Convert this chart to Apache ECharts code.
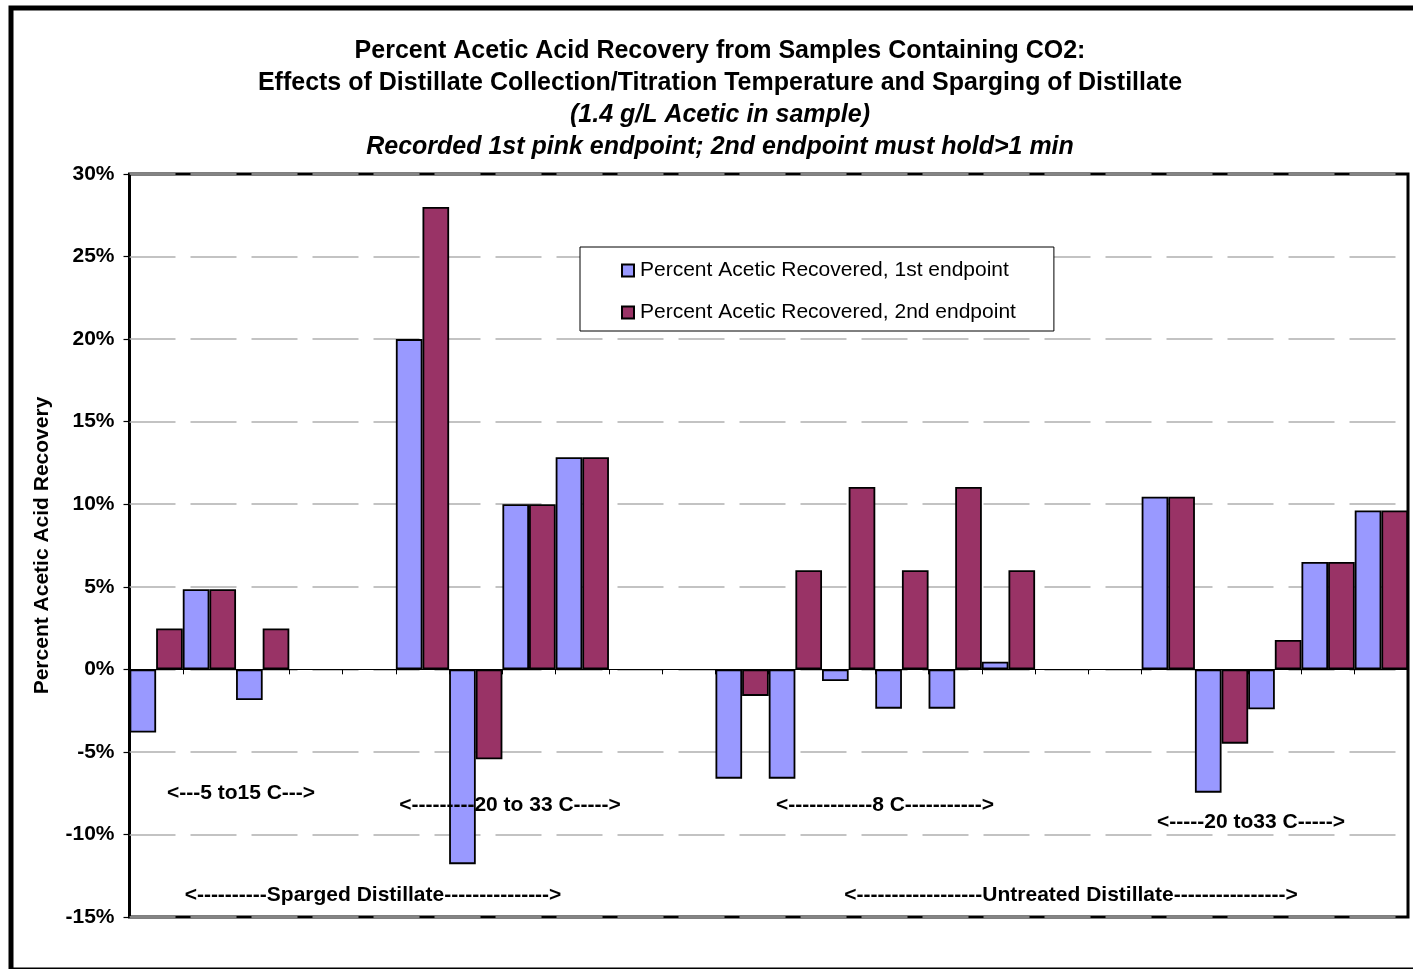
<!DOCTYPE html>
<html>
<head>
<meta charset="utf-8">
<script src="https://cdn.jsdelivr.net/npm/echarts@6/dist/echarts.min.js"></script>
<style>
  html, body { margin: 0; padding: 0; background: #fff; }
  #chart { width: 1413px; height: 969px; }
</style>
</head>
<body>
<div id="chart"></div>
<script>
// Sample slots along the category axis (empty slots separate the groups)
const categories = ['1','2','3','4','5','6','7','8','9','10','11','12',
                    '13','14','15','16','17','18','19','20','21','22','23','24'];

// Percent acetic acid recovered (%), first pink endpoint
const firstEndpoint = [-3.83, 4.85, -1.86, null, null, 20.0, -11.8, 10.0, 12.85, null, null, -6.62,
                       -6.62, -0.71, -2.38, -2.38, 0.46, null, null, 10.45, -7.47, -2.42, 6.5, 9.62];

// Percent acetic acid recovered (%), endpoint held > 1 min
const secondEndpoint = [2.48, 4.85, 2.48, null, null, 28.0, -5.45, 10.0, 12.85, null, null, -1.61,
                        6.0, 11.04, 6.0, 11.04, 6.0, null, null, 10.45, -4.5, 1.78, 6.5, 9.62];

const seriesNames = ['Percent Acetic Recovered, 1st endpoint', 'Percent Acetic Recovered, 2nd endpoint'];

const titleLines = [
  'Percent Acetic Acid Recovery from Samples Containing CO2:',
  'Effects of Distillate Collection/Titration Temperature and Sparging of Distillate',
  '(1.4 g/L Acetic in sample)',
  'Recorded 1st pink endpoint; 2nd endpoint must hold>1 min'
];

const groupNotes = [
  '<---5 to15 C--->',
  '<---------20 to 33 C----->',
  '<------------8 C----------->',
  '<-----20 to33 C----->',
  '<----------Sparged Distillate--------------->',
  '<------------------Untreated Distillate---------------->'
];

const FONT = '"Liberation Sans", Arial, Helvetica, sans-serif';

const chart = echarts.init(document.getElementById('chart'), null, { renderer: 'canvas' });

const titleGraphics = titleLines.map((line, i) => ({
  type: 'text',
  x: 720,
  y: 51 + i * 32,
  style: {
    text: line,
    fill: '#000',
    font: (i >= 2 ? 'italic ' : '') + 'bold 25px ' + FONT,
    textAlign: 'center',
    textVerticalAlign: 'middle'
  }
}));

const notePlaces = [[241, 793], [510, 805], [885, 805], [1251, 822], [373, 895], [1071, 895]];
const noteGraphics = groupNotes.map((t, i) => ({
  type: 'text',
  x: notePlaces[i][0],
  y: notePlaces[i][1],
  z: 10,
  style: {
    text: t,
    fill: '#000',
    font: 'bold 21px ' + FONT,
    textAlign: 'center',
    textVerticalAlign: 'middle'
  }
}));

const barStyle = (color) => ({ color: color, borderColor: '#000', borderWidth: 1.8 });

chart.setOption({
  backgroundColor: '#fff',
  animation: false,
  textStyle: { fontFamily: FONT },
  grid: {
    left: 129.5, right: 5, top: 174, bottom: 52,
    show: true, borderColor: '#000', borderWidth: 3,
    containLabel: false
  },
  legend: {
    left: 580, top: 247,
    orient: 'vertical',
    data: seriesNames,
    icon: 'rect',
    itemWidth: 12, itemHeight: 12,
    itemGap: 21,
    padding: [13, 38, 8, 41],
    backgroundColor: '#fff',
    borderColor: '#000',
    borderWidth: 1,
    textStyle: { fontSize: 21, color: '#000', fontFamily: FONT, padding: [0, 0, 0, 1] }
  },
  xAxis: {
    type: 'category',
    data: categories,
    boundaryGap: true,
    axisLine: { onZero: true, lineStyle: { color: '#000', width: 1 } },
    axisTick: { show: true, interval: 0, length: 5, lineStyle: { color: '#000', width: 1 } },
    axisLabel: { show: false },
    splitLine: { show: false }
  },
  yAxis: {
    type: 'value',
    min: -15, max: 30, interval: 5,
    name: 'Percent Acetic Acid Recovery',
    nameLocation: 'middle',
    nameRotate: 90,
    nameGap: 77,
    nameTextStyle: { fontSize: 21, fontWeight: 'bold', color: '#000', fontFamily: FONT },
    axisLine: { show: false },
    axisTick: { show: true, length: 6, lineStyle: { color: '#000', width: 1.2 } },
    axisLabel: {
      formatter: '{value}%', fontSize: 21, fontWeight: 'bold', color: '#000',
      margin: 15, fontFamily: FONT
    },
    splitLine: { show: true, lineStyle: { color: '#b0b0b0', width: 1.5, type: [46, 15] } }
  },
  series: [
    {
      name: seriesNames[0], type: 'bar', data: firstEndpoint,
      barGap: '0%', barCategoryGap: '0%',
      itemStyle: barStyle('#9999FF')
    },
    {
      name: seriesNames[1], type: 'bar', data: secondEndpoint,
      barGap: '0%', barCategoryGap: '0%',
      itemStyle: barStyle('#993366')
    }
  ],
  graphic: [
    {
      type: 'rect',
      shape: { x: 11, y: 8, width: 1500, height: 962 },
      style: { fill: 'none', stroke: '#000', lineWidth: 5 },
      z: 100
    }
  ].concat(titleGraphics, noteGraphics)
});
</script>
</body>
</html>
